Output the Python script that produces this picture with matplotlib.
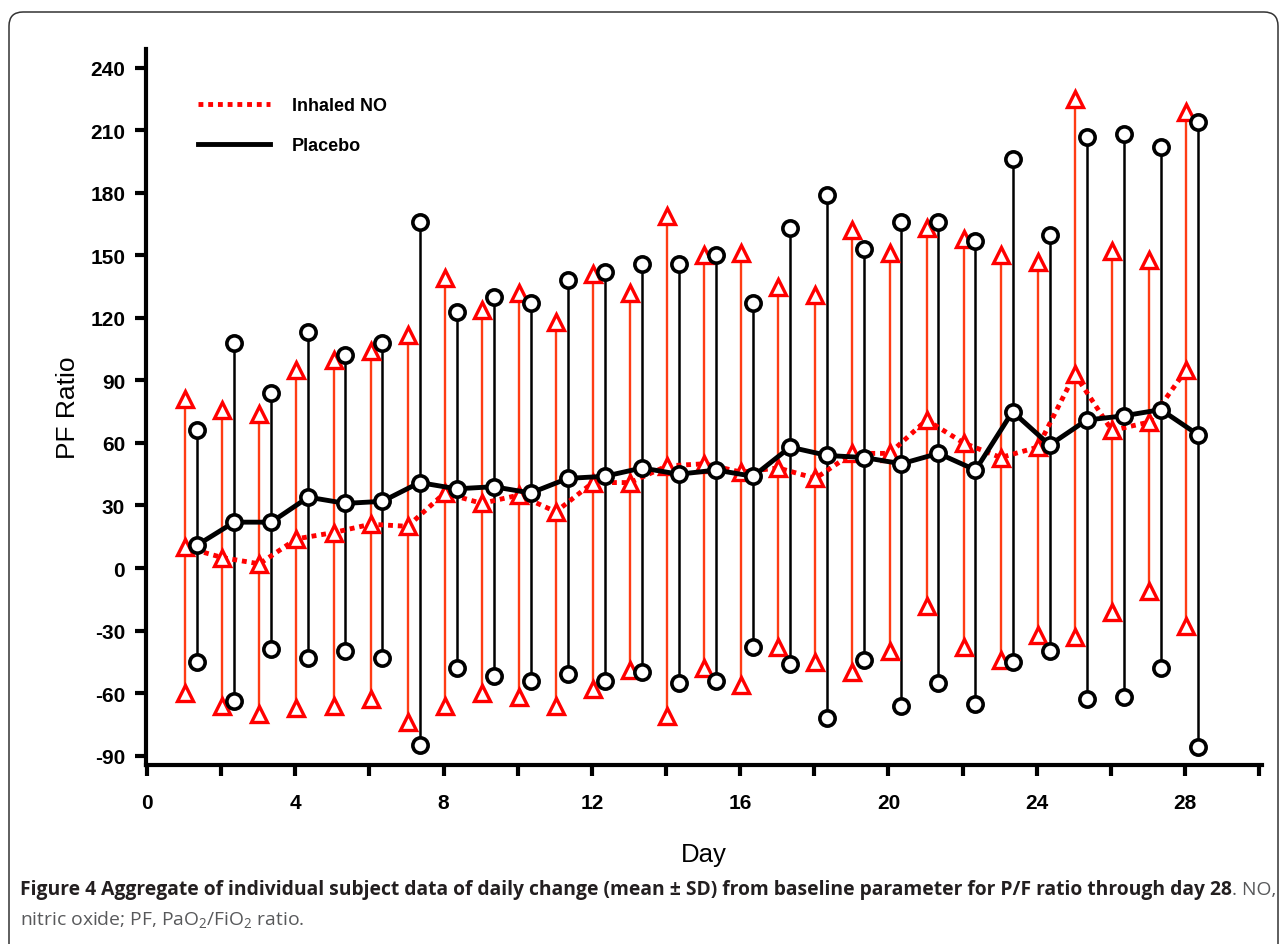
import matplotlib
matplotlib.use("Agg")
import matplotlib.pyplot as plt
from matplotlib.patches import FancyBboxPatch
from matplotlib.lines import Line2D
from matplotlib import font_manager
import numpy as np

# ---------------- data ----------------
days = list(range(1, 29))
no_mean  = [10, 5, 2, 14, 17, 21, 20, 36, 31, 35, 27, 41, 41, 49, 50, 46, 48, 43, 55, 55, 71, 60, 53, 58, 93, 66, 70, 95]
no_upper = [81, 76, 74, 95, 100, 104, 112, 139, 124, 132, 118, 141, 132, 169, 150, 151, 135, 131, 162, 151, 163, 158, 150, 147, 225, 152, 148, 219]
no_lower = [-60, -66, -70, -67, -66, -63, -74, -66, -60, -62, -66, -58, -49, -71, -48, -56, -38, -45, -50, -40, -18, -38, -44, -32, -33, -21, -11, -28]

pl_mean  = [11, 22, 22, 34, 31, 32, 41, 38, 39, 36, 43, 44, 48, 45, 47, 44, 58, 54, 53, 50, 55, 47, 75, 59, 71, 73, 76, 64]
pl_upper = [66, 108, 84, 113, 102, 108, 166, 123, 130, 127, 138, 142, 146, 146, 150, 127, 163, 179, 153, 166, 166, 157, 196, 160, 207, 208, 202, 214]
pl_lower = [-45, -64, -39, -43, -40, -43, -85, -48, -52, -54, -51, -54, -50, -55, -54, -38, -46, -72, -44, -66, -55, -65, -45, -40, -63, -62, -48, -86]

series_labels = ["Inhaled NO", "Placebo"]
xtick_values = list(range(0, 31, 2))
xtick_labels = [str(v) if (v % 4 == 0 and v <= 28) else "" for v in xtick_values]
ytick_values = list(range(-90, 241, 30))
xlabel_text = "Day"
ylabel_text = "PF Ratio"
caption_bold = ("Figure 4 Aggregate of individual subject data of daily change (mean \u00b1 SD) "
                "from baseline parameter for P/F ratio through day 28")
caption_reg1 = ". NO,"
caption_line2 = "nitric oxide; PF, PaO$_\\mathregular{2}$/FiO$_\\mathregular{2}$ ratio."

# ---------------- style ----------------
avail = {f.name for f in font_manager.fontManager.ttflist}
cap_font = "Liberation Sans Narrow" if "Liberation Sans Narrow" in avail else "Open Sans"

plt.rcParams['mathtext.fontset'] = 'custom'
plt.rcParams['mathtext.rm'] = cap_font
plt.rcParams['mathtext.it'] = cap_font + ':italic'
plt.rcParams['mathtext.bf'] = cap_font + ':bold'

W, H = 1282, 945
fig = plt.figure(figsize=(W / 100, H / 100), dpi=100)
fig.patch.set_facecolor("white")

ax_left, ax_right, ax_top, ax_bottom = 146, 1262, 50, 766
ax = fig.add_axes([ax_left / W, (H - ax_bottom) / H, (ax_right - ax_left) / W, (ax_bottom - ax_top) / H])

no_x = np.array(days) + 0.03
pl_x = np.array(days) + 0.35

red = "#ff0000"
bar_red = "#ff3c14"
ms = 11

# Inhaled NO error bars
ax.vlines(no_x, no_lower, no_upper, color=bar_red, lw=1.7, zorder=2)
ax.plot(no_x, no_upper, ls="none", marker="^", ms=ms, mfc="white", mec=red, mew=2.4, zorder=3)
ax.plot(no_x, no_lower, ls="none", marker="^", ms=ms, mfc="white", mec=red, mew=2.4, zorder=3)

# Placebo error bars
ax.vlines(pl_x, pl_lower, pl_upper, color="black", lw=1.8, zorder=2)
ax.plot(pl_x, pl_upper, ls="none", marker="o", ms=ms, mfc="white", mec="black", mew=2.6, zorder=3)
ax.plot(pl_x, pl_lower, ls="none", marker="o", ms=ms, mfc="white", mec="black", mew=2.6, zorder=3)

# mean lines
ax.plot(no_x, no_mean, color=red, lw=3.5, ls=(0, (1, 1)), zorder=4,
        marker="^", ms=ms, mfc="white", mec=red, mew=2.4)
ax.plot(pl_x, pl_mean, color="black", lw=3.5, ls="-", zorder=5,
        marker="o", ms=ms, mfc="white", mec="black", mew=2.6)

ax.set_xlim(-0.03, 30.08)
ax.set_ylim(-94.5, 249)

for s in ["top", "right"]:
    ax.spines[s].set_visible(False)
for s in ["left", "bottom"]:
    ax.spines[s].set_linewidth(3)

ax.set_xticks(xtick_values)
ax.set_xticklabels(xtick_labels)
ax.set_yticks(ytick_values)
ax.set_yticklabels([str(v) for v in ytick_values])
ax.tick_params(axis="both", direction="out", length=8, width=3, labelsize=15)
ax.tick_params(axis="x", pad=12)
ax.tick_params(axis="y", pad=7)
for lab in ax.get_xticklabels() + ax.get_yticklabels():
    lab.set_fontfamily("Liberation Sans")
    lab.set_fontweight("bold")

ax.set_xlabel(xlabel_text, fontsize=18.5, family="Liberation Sans")
ax.xaxis.set_label_coords(0.5, -(855 - ax_bottom) / (ax_bottom - ax_top))
ax.xaxis.label.set_va("center")
ax.set_ylabel(ylabel_text, fontsize=19, family="Liberation Sans")
ax.yaxis.set_label_coords(-(ax_left - 68) / (ax_right - ax_left), 0.5)
ax.yaxis.label.set_va("center")

# legend
handles = [Line2D([], [], color=red, lw=3.5, ls=(0, (1, 1))),
           Line2D([], [], color="black", lw=3.5, ls="-")]
leg = ax.legend(handles, series_labels, loc="upper left",
                bbox_to_anchor=((198 - ax_left) / (ax_right - ax_left), (ax_bottom - 98) / (ax_bottom - ax_top)),
                frameon=False, borderpad=0, borderaxespad=0, handlelength=4.0,
                handletextpad=1.2, labelspacing=1.27,
                prop={"family": "Liberation Sans", "weight": "bold", "size": 13})

# rounded border
box = FancyBboxPatch((9 / 100, -0.3), (1278 - 9) / 100, (H - 13) / 100 + 0.3,
                     boxstyle="round,pad=0,rounding_size=0.14",
                     transform=fig.dpi_scale_trans, fill=False,
                     edgecolor="#333333", lw=1.1)
fig.patches.append(box)

# caption
renderer = fig.canvas.get_renderer()
x0, y1, y2 = 20, 890, 920
target_end = 1276

def draw_line1(fs):
    t1 = fig.text(x0 / W, 1 - y1 / H, caption_bold, fontsize=fs, family=cap_font,
                  weight="bold", color="#231f20", va="center", ha="left")
    bb = t1.get_window_extent(renderer)
    t2 = fig.text(bb.x1 / W, 1 - y1 / H, caption_reg1, fontsize=fs, family=cap_font,
                  color="#58595b", va="center", ha="left")
    bb2 = t2.get_window_extent(renderer)
    return t1, t2, bb2.x1

fs = 13.0
for _ in range(3):
    t1, t2, xend = draw_line1(fs)
    scale = (target_end - x0) / (xend - x0)
    t1.remove(); t2.remove()
    fs *= scale
t1, t2, xend = draw_line1(fs)
fig.text(x0 / W, 1 - y2 / H, caption_line2, fontsize=fs, family=cap_font,
         color="#58595b", va="center", ha="left")

fig.savefig("out.png", dpi=100)
